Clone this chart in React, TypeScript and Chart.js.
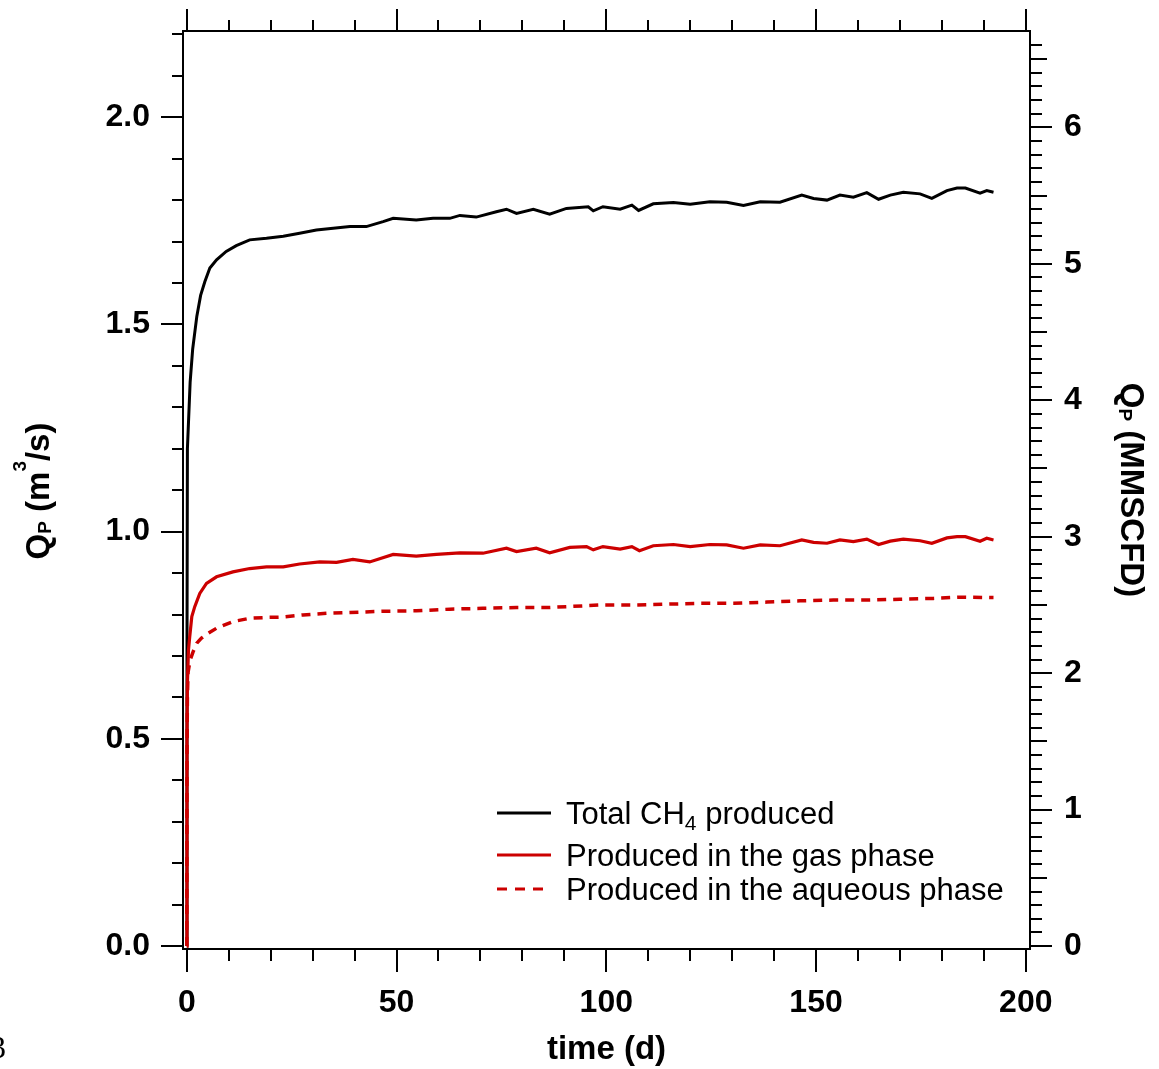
import { useEffect, useRef } from 'react';
import { Chart, registerables } from 'chart.js';

Chart.register(...registerables);

// Total CH4 production rate, m^3/s, against time in days
const tTotal = [0, 0.05, 0.15, 0.8, 1.4, 2.4, 3.3, 4.3, 5.5, 7.1, 9.4, 11.8, 15.0, 19.0, 23.0, 26.9, 30.9, 34.9, 38.9, 42.8, 46.8, 49.2, 54.7, 58.7, 62.7, 65.1, 69.0, 73.8, 76.2, 78.6, 82.6, 86.5, 90.5, 95.7, 96.9, 99.2, 103.3, 106.1, 107.7, 111.2, 116.0, 120.0, 124.7, 128.7, 132.7, 136.7, 141.4, 146.6, 149.4, 152.6, 155.7, 158.9, 162.1, 164.9, 167.7, 170.8, 174.8, 177.6, 181.2, 183.6, 185.6, 189.1, 190.7, 192.3];
const qTotal = [0, 0.7, 1.2, 1.36, 1.44, 1.52, 1.57, 1.603, 1.636, 1.656, 1.676, 1.690, 1.704, 1.708, 1.713, 1.720, 1.728, 1.732, 1.736, 1.736, 1.748, 1.756, 1.752, 1.756, 1.756, 1.763, 1.759, 1.772, 1.778, 1.768, 1.778, 1.766, 1.780, 1.784, 1.774, 1.784, 1.778, 1.788, 1.775, 1.791, 1.794, 1.790, 1.796, 1.795, 1.787, 1.796, 1.795, 1.812, 1.804, 1.800, 1.812, 1.807, 1.818, 1.802, 1.812, 1.819, 1.815, 1.804, 1.823, 1.829, 1.829, 1.817, 1.823, 1.819];

// Gas-phase production
const tGas = [0, 0.05, 0.15, 0.4, 0.7, 1.2, 1.9, 3.1, 4.7, 7.1, 11.0, 15.0, 19.0, 23.0, 26.9, 31.7, 35.7, 39.6, 43.6, 49.2, 54.7, 59.5, 65.1, 70.6, 76.2, 78.6, 83.3, 86.5, 91.3, 95.3, 96.9, 99.2, 103.3, 106.1, 107.9, 111.2, 116.0, 120.0, 124.7, 128.7, 132.7, 136.7, 141.4, 146.6, 149.4, 152.6, 155.7, 158.9, 162.1, 164.9, 167.7, 170.8, 174.8, 177.6, 181.2, 183.6, 185.6, 189.1, 190.7, 192.3];
const qGas = [0, 0.5, 0.634, 0.714, 0.746, 0.795, 0.819, 0.851, 0.875, 0.891, 0.903, 0.911, 0.915, 0.915, 0.922, 0.927, 0.926, 0.933, 0.927, 0.945, 0.941, 0.945, 0.949, 0.948, 0.960, 0.952, 0.960, 0.949, 0.962, 0.964, 0.956, 0.964, 0.958, 0.964, 0.954, 0.966, 0.969, 0.964, 0.969, 0.968, 0.960, 0.968, 0.966, 0.980, 0.974, 0.972, 0.980, 0.976, 0.982, 0.969, 0.977, 0.982, 0.978, 0.972, 0.985, 0.988, 0.988, 0.977, 0.984, 0.980];

// Aqueous-phase production
const tAqueous = [0, 0.05, 0.15, 0.3, 0.8, 1.5, 2.4, 3.5, 4.7, 7.1, 11.0, 15.0, 19.0, 23.0, 27.7, 33.3, 38.9, 46.8, 54.7, 62.7, 70.6, 78.6, 86.5, 94.5, 98.5, 106.5, 114.4, 122.4, 130.3, 138.3, 146.2, 154.1, 162.1, 170.0, 178.0, 184.3, 192.3];
const qAqueous = [0, 0.45, 0.60, 0.66, 0.69, 0.71, 0.731, 0.743, 0.752, 0.767, 0.783, 0.791, 0.793, 0.794, 0.799, 0.803, 0.805, 0.808, 0.809, 0.813, 0.815, 0.817, 0.817, 0.821, 0.823, 0.823, 0.825, 0.827, 0.827, 0.830, 0.833, 0.835, 0.835, 0.837, 0.839, 0.842, 0.841];

// Labelled tick values
const xTickValues = [0, 50, 100, 150, 200];
const yTickValues = [0, 0.5, 1.0, 1.5, 2.0];
const y2TickValues = [0, 1, 2, 3, 4, 5, 6];

// Axis ranges; the right axis is the same flow in MMSCFD
const X_MIN = -0.9;
const X_MAX = 201;
const Y_MIN = -0.007;
const Y_MAX = 2.208;
const MMSCFD_PER_M3S = 3.037;

const RED = '#cc0000';
const SANS = '"Liberation Sans", Arial, sans-serif';

type Part = { text: string; size: number; bold?: boolean; dy?: number };

function drawParts(ctx: CanvasRenderingContext2D, parts: Part[], x: number, y: number, align: 'left' | 'center') {
  const widths = parts.map((p) => {
    ctx.font = `${p.bold ? 'bold ' : ''}${p.size}px ${SANS}`;
    return ctx.measureText(p.text).width;
  });
  const total = widths.reduce((a, b) => a + b, 0);
  let cx = align === 'center' ? x - total / 2 : x;
  ctx.textAlign = 'left';
  ctx.textBaseline = 'alphabetic';
  parts.forEach((p, i) => {
    ctx.font = `${p.bold ? 'bold ' : ''}${p.size}px ${SANS}`;
    ctx.fillText(p.text, cx, y + (p.dy || 0));
    cx += widths[i];
  });
}

const legendRows: { parts: Part[]; color: string; width: number; dash: number[] }[] = [
  {
    parts: [
      { text: 'Total CH', size: 31 },
      { text: '4', size: 21, dy: 6 },
      { text: ' produced', size: 31 },
    ],
    color: '#000000',
    width: 3,
    dash: [],
  },
  { parts: [{ text: 'Produced in the gas phase', size: 31 }], color: RED, width: 3, dash: [] },
  { parts: [{ text: 'Produced in the aqueous phase', size: 31 }], color: RED, width: 3, dash: [10, 8] },
];

const framePlugin = {
  id: 'frameTicksTitles',
  afterDraw(chart: any) {
    const { ctx, chartArea } = chart;
    const { left, right, top, bottom } = chartArea;
    const xs = chart.scales.x;
    const ys = chart.scales.y;
    const y2s = chart.scales.y2;
    ctx.save();
    ctx.strokeStyle = '#000';
    ctx.fillStyle = '#000';
    ctx.lineWidth = 2;
    ctx.setLineDash([]);
    ctx.strokeRect(left, top, right - left, bottom - top);

    const seg = (x1: number, y1: number, x2: number, y2: number) => {
      ctx.beginPath();
      ctx.moveTo(x1, y1);
      ctx.lineTo(x2, y2);
      ctx.stroke();
    };

    // time ticks on bottom and top edges: every 10 d, long every 50 d
    for (let d = 0; d <= 200; d += 10) {
      const px = Math.round(xs.getPixelForValue(d));
      const major = d % 50 === 0;
      seg(px, bottom, px, bottom + (major ? 23 : 12));
      seg(px, top, px, top - (major ? 22 : 11));
    }
    // left ticks every 0.1 m^3/s
    for (let i = 0; i <= 22; i++) {
      const v = i / 10;
      if (v > Y_MAX) break;
      const py = Math.round(ys.getPixelForValue(v));
      seg(left, py, left - (i % 5 === 0 ? 22 : 11), py);
    }
    // right ticks every 0.1 MMSCFD
    const y2Max = Y_MAX * MMSCFD_PER_M3S;
    for (let i = 0; i / 10 < y2Max - 0.02; i++) {
      const py = Math.round(y2s.getPixelForValue(i / 10));
      const len = i % 10 === 0 ? 22 : i % 5 === 0 ? 17 : 12;
      seg(right, py, right + len, py);
    }

    // legend
    const rowY = [813, 855, 889];
    legendRows.forEach((row, i) => {
      ctx.strokeStyle = row.color;
      ctx.lineWidth = row.width;
      ctx.setLineDash(row.dash);
      seg(497, rowY[i], 551, rowY[i]);
      ctx.setLineDash([]);
      ctx.fillStyle = '#000';
      drawParts(ctx, row.parts, 566, rowY[i] + 11, 'left');
    });

    // axis titles
    ctx.fillStyle = '#000';
    drawParts(ctx, [{ text: 'time (d)', size: 33, bold: true }], (left + right) / 2, 1059, 'center');

    ctx.save();
    ctx.translate(49, (top + bottom) / 2 + 1);
    ctx.rotate(-Math.PI / 2);
    drawParts(
      ctx,
      [
        { text: 'Q', size: 33, bold: true },
        { text: 'P', size: 19, bold: true, dy: 2 },
        { text: ' (m', size: 33, bold: true },
        { text: '3', size: 19, bold: true, dy: -23 },
        { text: '/s)', size: 33, bold: true },
      ],
      0,
      0,
      'center'
    );
    ctx.restore();

    ctx.save();
    ctx.translate(1121, (top + bottom) / 2);
    ctx.rotate(Math.PI / 2);
    drawParts(
      ctx,
      [
        { text: 'Q', size: 33, bold: true },
        { text: 'P', size: 19, bold: true, dy: 2 },
        { text: ' (MMSCFD)', size: 33, bold: true },
      ],
      0,
      0,
      'center'
    );
    ctx.restore();

    // figure number at the page edge
    ctx.font = '32px "Liberation Serif", serif';
    ctx.textAlign = 'left';
    ctx.fillText('3', -10, 1058);
    ctx.restore();
  },
};

const tickFont = { family: SANS, size: 32, weight: 'bold' as const };

// fixed axis box sizes, with no extra room requested for edge labels
const fixBox = (size: number) => (s: any) => {
  if (s.isHorizontal()) s.height = size;
  else s.width = size;
  s.paddingTop = 0;
  s.paddingBottom = 0;
  s.paddingLeft = 0;
  s.paddingRight = 0;
};

export default function App() {
  const canvasRef = useRef<HTMLCanvasElement | null>(null);

  useEffect(() => {
    const canvas = canvasRef.current;
    if (!canvas) return;
    const pairs = (t: number[], q: number[]) => t.map((x, i) => ({ x, y: q[i] }));
    const chart = new Chart(canvas, {
      type: 'line',
      data: {
        datasets: [
          {
            label: 'Total CH4 produced',
            data: pairs(tTotal, qTotal),
            borderColor: '#000000',
            borderWidth: 3,
            pointRadius: 0,
            tension: 0,
            order: 3,
          },
          {
            label: 'Produced in the gas phase',
            data: pairs(tGas, qGas),
            borderColor: RED,
            borderWidth: 3.2,
            pointRadius: 0,
            tension: 0,
            order: 2,
          },
          {
            label: 'Produced in the aqueous phase',
            data: pairs(tAqueous, qAqueous),
            borderColor: RED,
            borderWidth: 3.5,
            borderDash: [9, 7],
            pointRadius: 0,
            tension: 0,
            order: 1,
          },
        ],
      },
      options: {
        animation: false,
        responsive: false,
        devicePixelRatio: 1,
        layout: { padding: { top: 31, left: 0, right: 0, bottom: 0 } },
        plugins: { legend: { display: false }, tooltip: { enabled: false } },
        scales: {
          x: {
            type: 'linear',
            position: 'bottom',
            min: X_MIN,
            max: X_MAX,
            grid: { display: false, drawTicks: false },
            border: { display: false },
            ticks: {
              font: tickFont,
              color: '#000',
              padding: 35,
              maxRotation: 0,
              autoSkip: false,
              callback: (v: any) => String(v),
            },
            afterBuildTicks: (s: any) => {
              s.ticks = xTickValues.map((value) => ({ value }));
            },
            afterFit: fixBox(120),
          },
          y: {
            type: 'linear',
            position: 'left',
            min: Y_MIN,
            max: Y_MAX,
            grid: { display: false, drawTicks: false },
            border: { display: false },
            ticks: {
              font: tickFont,
              color: '#000',
              padding: 33,
              callback: (v: any) => Number(v).toFixed(1),
            },
            afterBuildTicks: (s: any) => {
              s.ticks = yTickValues.map((value) => ({ value }));
            },
            afterFit: fixBox(183),
          },
          y2: {
            type: 'linear',
            position: 'right',
            min: Y_MIN * MMSCFD_PER_M3S,
            max: Y_MAX * MMSCFD_PER_M3S,
            grid: { display: false, drawTicks: false },
            border: { display: false },
            ticks: {
              font: tickFont,
              color: '#000',
              padding: 34,
              callback: (v: any) => String(v),
            },
            afterBuildTicks: (s: any) => {
              s.ticks = y2TickValues.map((value) => ({ value }));
            },
            afterFit: fixBox(129),
          },
        },
      },
      plugins: [framePlugin],
    });
    return () => chart.destroy();
  }, []);

  return (
    <div style={{ position: 'fixed', left: 0, top: 0, width: 1159, height: 1069, background: '#ffffff' }}>
      <canvas ref={canvasRef} width={1159} height={1069} />
    </div>
  );
}
